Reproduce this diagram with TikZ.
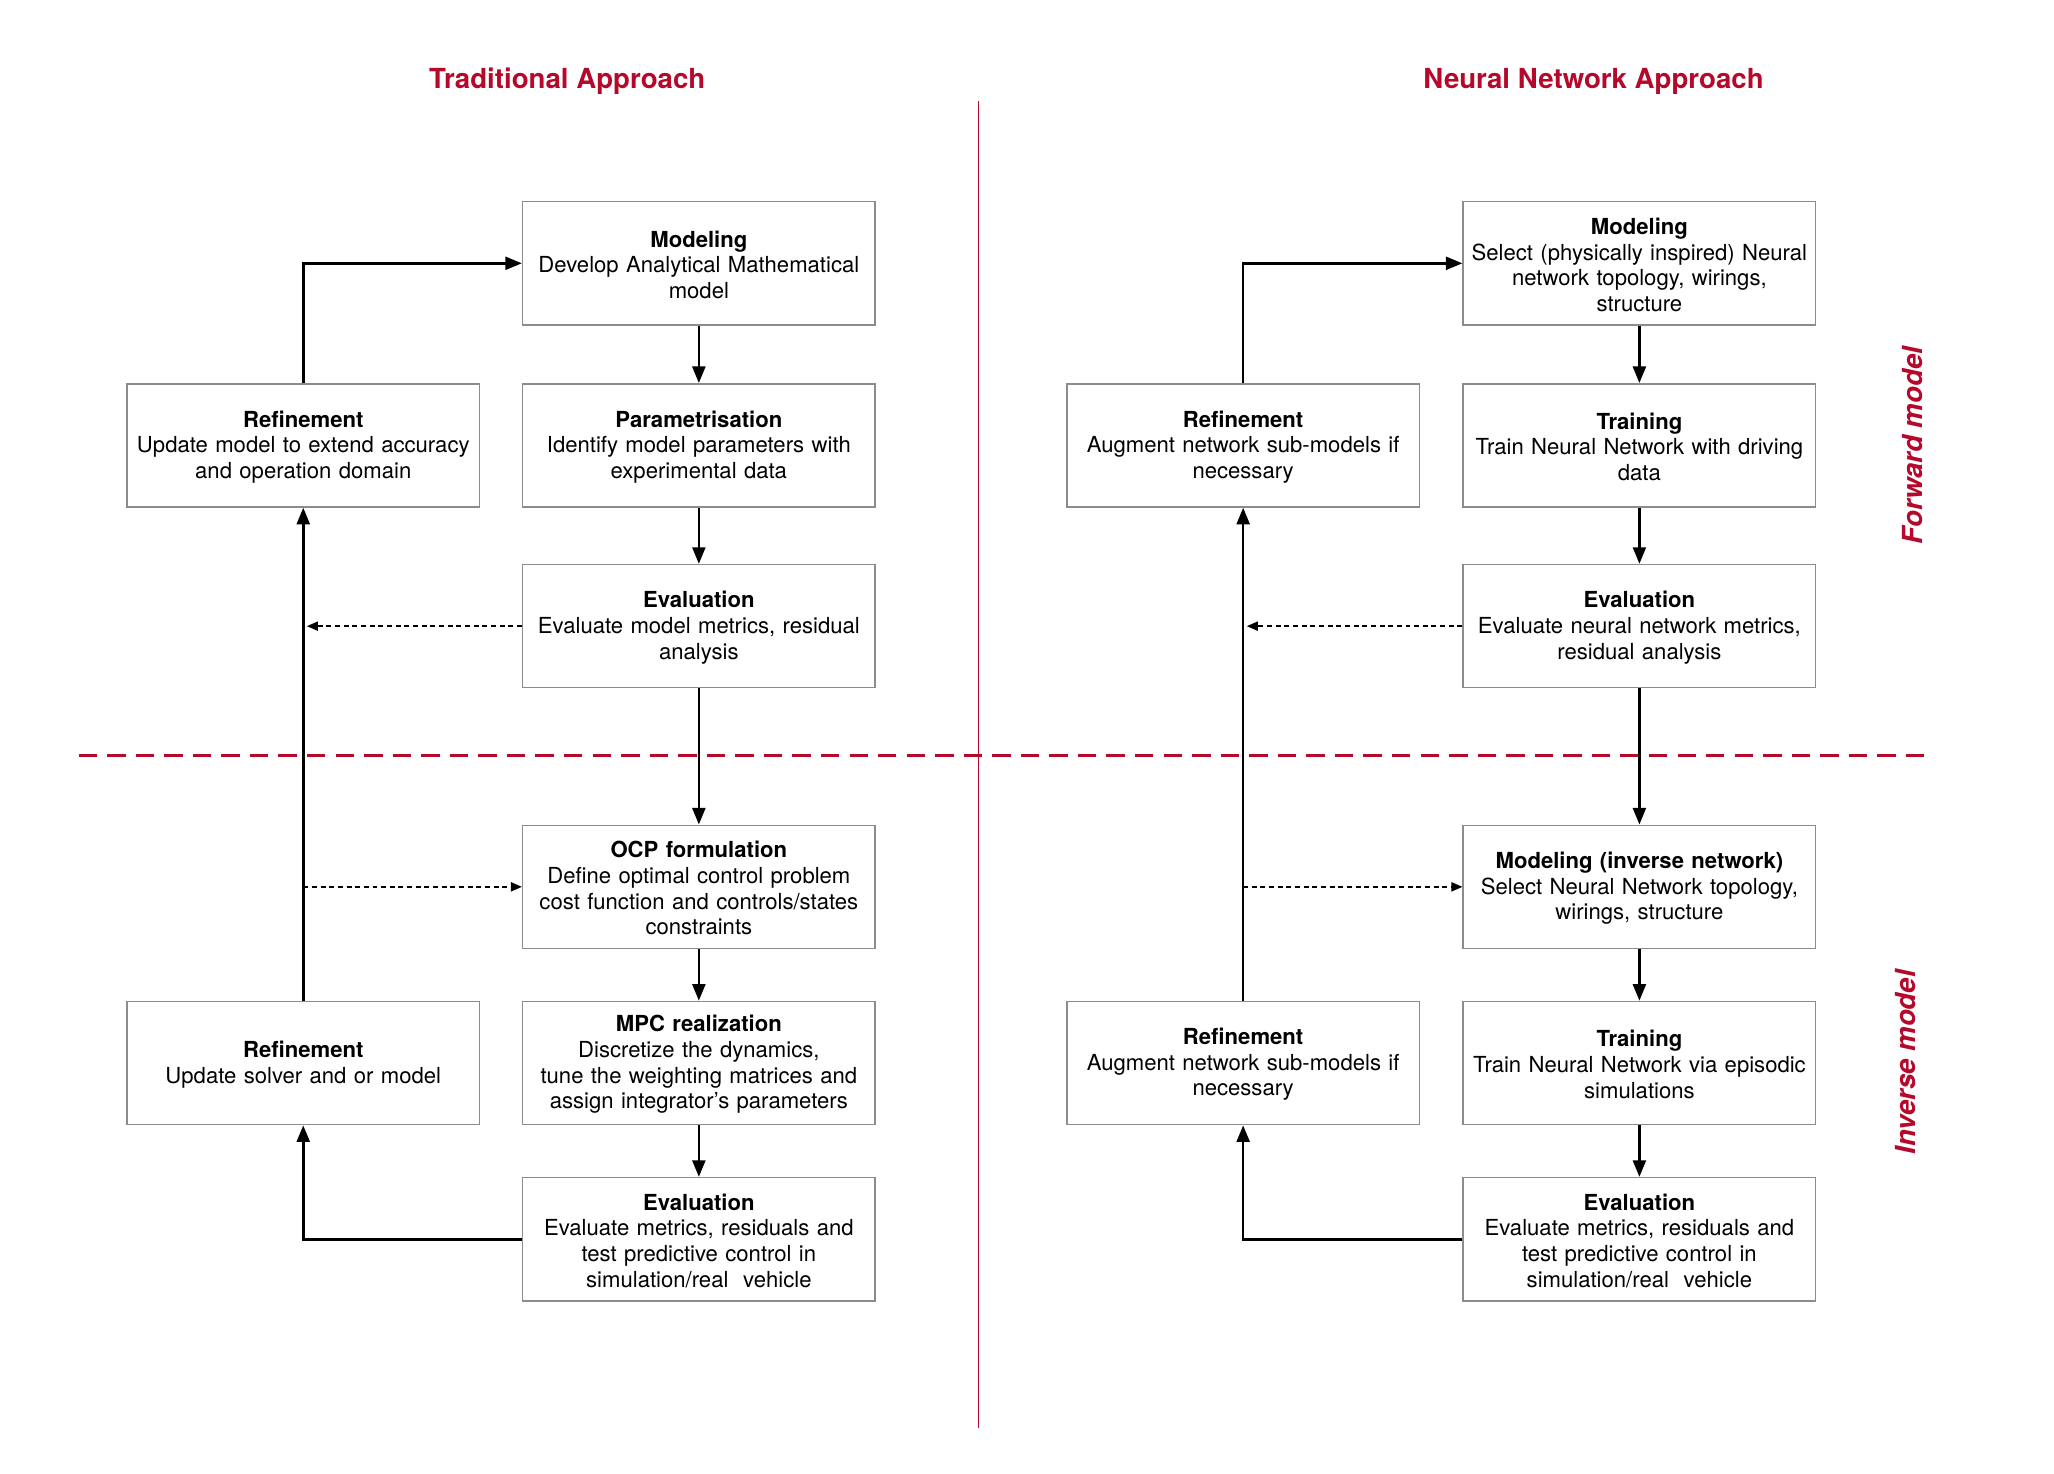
\documentclass[tikz,border=0pt]{standalone}
\usepackage{fontspec}
\setmainfont{TeX Gyre Heros}
\usepackage{xcolor}
\definecolor{Crimson}{HTML}{B5082A}
\definecolor{Dim Grey}{HTML}{8C8C8C}
\colorlet{cRed}{Crimson}
\colorlet{cGrey}{Dim Grey}
\usepackage{tikz}
\usetikzlibrary{arrows.meta, positioning}
\tikzset{
	line width = .8pt,
	>={Triangle[length=9pt, width=7pt]},
	font = \fontsize{12}{13.9}\selectfont,
	box/.style={
		draw=cGrey,
		rectangle,
		line width=.8pt,
		minimum width=6.725cm,
		minimum height=2.35cm,
		text width=6.525cm,
		inner xsep=.1cm,
		align=center,
		execute at end node={\par\vspace{-1.6pt}}
	},
	flow/.style={
		->,
		line width=1.4pt
	},
	hint/.style={
		-{Triangle[length=6pt, width=5pt]},
		line width=.8pt,
		dash pattern=on 2.7pt off 2pt
	},
	heading/.style={
		text=cRed,
		font=\fontsize{15}{18}\selectfont\bfseries
	},
	side/.style={
		text=cRed,
		rotate=90,
		font=\fontsize{15}{18}\selectfont\bfseries\itshape
	}
}

\begin{document}
\begin{tikzpicture}[x=.025cm, y=-.025cm]
		\useasboundingbox (0,0) rectangle (1568,1125);

		% headings
		\node[heading] (ttitle) at (433,62) {Traditional Approach};
		\node[heading] (ntitle) at (1216.5,62) {Neural Network Approach};
		\node[side] (fwd) at (1460,340) {Forward model};
		\node[side] (inv) at (1455,811) {Inverse model};

		% separators
		\coordinate (vtop) at (747,77);
		\coordinate (vbot) at (747,1090);
		\coordinate (hleft) at (60,577);
		\coordinate (hright) at (1475,577);
		\draw[cRed, line width=.8pt] (vtop) -- (vbot);
		\draw[cRed, line width=1.6pt, dash pattern=on 10pt off 5.5pt] (hleft) -- (hright);

		% traditional approach
		\node[box] (tmod) at (533.5,201) {\textbf{Modeling}\\Develop Analytical Mathematical\\model};
		\node[box] (tpar) at (533.5,340) {\textbf{Parametrisation}\\Identify model parameters with\\experimental data};
		\node[box] (teval) at (533.5,478) {\textbf{Evaluation}\\Evaluate model metrics, residual\\analysis};
		\node[box] (tocp) at (533.5,677) {\textbf{OCP formulation}\\Define optimal control problem\\cost function and controls/states\\constraints};
		\node[box] (tmpc) at (533.5,811.5) {\textbf{MPC realization}\\Discretize the dynamics,\\tune the weighting matrices and\\assign integrator’s parameters};
		\node[box] (teval2) at (533.5,946) {\textbf{Evaluation}\\Evaluate metrics, residuals and\\test predictive control in\\simulation/real\ \ vehicle};
		\node[box] (tref) at (231.5,340) {\textbf{Refinement}\\Update model to extend accuracy\\and operation domain};
		\node[box] (tref2) at (231.5,811.5) {\textbf{Refinement}\\Update solver and or model};

		\draw[flow] (tref.north) |- (tmod.west);
		\draw[flow] (tmod) -- (tpar);
		\draw[flow] (tpar) -- (teval);
		\draw[flow] (teval) -- (tocp);
		\draw[flow] (tocp) -- (tmpc);
		\draw[flow] (tmpc) -- (teval2);
		\draw[flow] (teval2.west) -| (tref2.south);
		\draw[flow] (tref2) -- (tref);
		\draw[hint, shorten >=2pt] (teval.west) -- (tref |- teval.west);
		\draw[hint] (tref |- tocp.west) -- (tocp.west);

		% neural network approach
		\node[box] (nmod) at (1251.5,201) {\textbf{Modeling}\\Select (physically inspired) Neural\\network topology, wirings,\\structure};
		\node[box] (ntrain) at (1251.5,340) {\textbf{Training}\\Train Neural Network with driving\\data};
		\node[box] (neval) at (1251.5,478) {\textbf{Evaluation}\\Evaluate neural network metrics,\\residual analysis};
		\node[box] (ninv) at (1251.5,677) {\textbf{Modeling (inverse network)}\\Select Neural Network topology,\\wirings, structure};
		\node[box] (ntrain2) at (1251.5,811.5) {\textbf{Training}\\Train Neural Network via episodic\\simulations};
		\node[box] (neval2) at (1251.5,946) {\textbf{Evaluation}\\Evaluate metrics, residuals and\\test predictive control in\\simulation/real\ \ vehicle};
		\node[box] (nref) at (949,340) {\textbf{Refinement}\\Augment network sub-models if\\necessary};
		\node[box] (nref2) at (949,811.5) {\textbf{Refinement}\\Augment network sub-models if\\necessary};

		\draw[flow] (nref.north) |- (nmod.west);
		\draw[flow] (nmod) -- (ntrain);
		\draw[flow] (ntrain) -- (neval);
		\draw[flow] (neval) -- (ninv);
		\draw[flow] (ninv) -- (ntrain2);
		\draw[flow] (ntrain2) -- (neval2);
		\draw[flow] (neval2.west) -| (nref2.south);
		\draw[flow] (nref2) -- (nref);
		\draw[hint, shorten >=2pt] (neval.west) -- (nref |- neval.west);
		\draw[hint] (nref |- ninv.west) -- (ninv.west);
	\end{tikzpicture}
\end{document}
